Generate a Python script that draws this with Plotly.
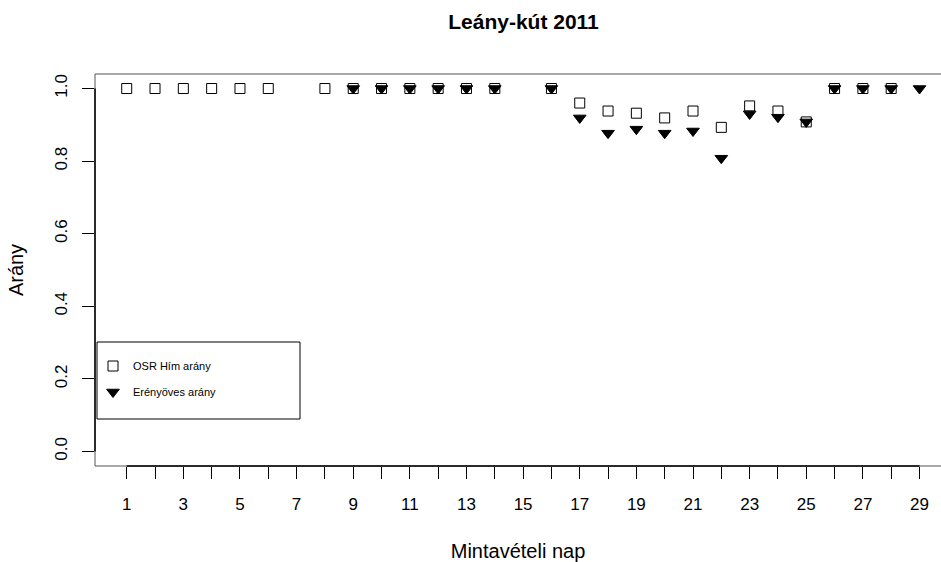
import plotly.graph_objects as go

title = "Leány-kút 2011"
x_title = "Mintavételi nap"
y_title = "Arány"
name_osr = "OSR Hím arány"
name_eren = "Erényöves arány"

days = list(range(1, 30))
osr = [1, 1, 1, 1, 1, 1, None, 1, 1, 1, 1, 1, 1, 1, None, 1,
       0.960, 0.938, 0.932, 0.919, 0.938, 0.893, 0.952, 0.938, 0.908,
       1, 1, 1, None]
eren = [None, None, None, None, None, None, None, None, 1, 1, 1, 1, 1, 1, None, 1,
        0.919, 0.877, 0.888, 0.877, 0.883, 0.808, 0.930, 0.921, 0.908,
        1, 1, 1, 1]
y_ticks = [0.0, 0.2, 0.4, 0.6, 0.8, 1.0]

FONT = "Liberation Sans, Arial, sans-serif"

fig = go.Figure()
fig.add_trace(go.Scatter(
    x=days, y=osr, mode="markers", name=name_osr, legend="legend",
    marker=dict(symbol="square-open", size=10, color="black", line=dict(width=1, color="black")),
))
fig.add_trace(go.Scatter(
    x=days, y=eren, mode="markers", name=name_eren, legend="legend2",
    marker=dict(symbol="triangle-down", size=11, color="black", line=dict(width=1, color="black")),
))

span = days[-1] - days[0]
xmin = days[0] - 0.04 * span
W, H = 941, 562
ml, mt, mb = 95, 74, 96
px_per_unit = (919.5 - 126.7) / span
xmax = xmin + (W - ml) / px_per_unit

fig.update_layout(
    width=W, height=H,
    margin=dict(l=ml, r=0, t=mt, b=mb),
    paper_bgcolor="white", plot_bgcolor="white",
    font=dict(family=FONT, color="black", size=17),
    title=dict(text="<b>" + title + "</b>", x=(ml + (ml + 857)) / 2 / W, xanchor="center",
               y=1 - 22 / H, yanchor="middle", font=dict(size=21)),
    showlegend=True,
    legend=dict(x=(93 - ml) / (W - ml), y=1 - (366 - mt) / (H - mt - mb), xanchor="left", yanchor="middle",
                bgcolor="rgba(0,0,0,0)", borderwidth=0, font=dict(size=11)),
    legend2=dict(x=(93 - ml) / (W - ml), y=1 - (392 - mt) / (H - mt - mb), xanchor="left", yanchor="middle",
                 bgcolor="rgba(0,0,0,0)", borderwidth=0, font=dict(size=11)),
    xaxis=dict(range=[xmin, xmax], tickmode="array", tickvals=days,
               ticktext=[str(d) if d % 2 == 1 else "" for d in days],
               ticks="outside", ticklen=12, tickwidth=1, tickcolor="black",
               showgrid=False, zeroline=False, showline=False,
               ticklabelstandoff=11,
               title=dict(text=x_title, standoff=30)),
    yaxis=dict(range=[-0.04, 1.04], tickmode="array", tickvals=y_ticks,
               ticktext=["%.1f" % v for v in y_ticks], tickangle=-90,
               ticks="outside", ticklen=12, tickwidth=1, tickcolor="black",
               showgrid=False, zeroline=False, showline=False,
               ticklabelstandoff=8,
               title=dict(text=y_title, standoff=23)),
)

# frame (box) - left, top, bottom; right edge lies outside the page
fr = dict(color="#555555", width=1)
fig.add_shape(type="line", xref="paper", yref="paper", x0=0, x1=0, y0=0, y1=1, line=fr)
fig.add_shape(type="line", xref="paper", yref="paper", x0=0, x1=1, y0=1, y1=1, line=fr)
fig.add_shape(type="line", xref="paper", yref="paper", x0=0, x1=1, y0=0, y1=0, line=fr)
# axis lines spanning the tick range
ax = dict(color="black", width=1.5)
fig.add_shape(type="line", xref="x", yref="paper", x0=days[0], x1=days[-1], y0=0, y1=0, line=ax)
fig.add_shape(type="line", xref="paper", yref="y", x0=0, x1=0, y0=y_ticks[0], y1=y_ticks[-1], line=ax)
# legend box
fig.add_shape(type="rect", xref="paper", yref="paper",
              x0=(97 - ml) / (W - ml), x1=(300 - ml) / (W - ml),
              y0=1 - (419 - mt) / (H - mt - mb), y1=1 - (342 - mt) / (H - mt - mb),
              line=dict(color="black", width=1), fillcolor="rgba(0,0,0,0)")

fig.write_html("out.html")
